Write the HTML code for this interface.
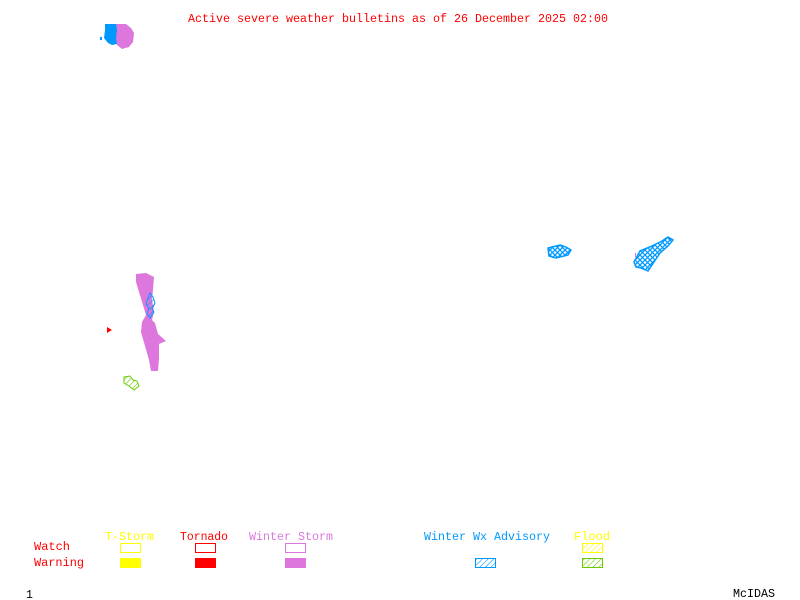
<!DOCTYPE html>
<html><head><meta charset="utf-8"><style>
html,body{margin:0;padding:0;background:#fff;width:800px;height:600px;overflow:hidden}
svg text{font-family:"Liberation Mono","DejaVu Sans Mono",monospace;font-size:11.5px}
</style></head><body>
<svg width="800" height="600" viewBox="0 0 800 600" xmlns="http://www.w3.org/2000/svg">
<defs>
<pattern id="hb" width="4" height="4" patternUnits="userSpaceOnUse" patternTransform="rotate(45)"><line x1="0" y1="0" x2="0" y2="4" stroke="#0099ff" stroke-width="1.2"/></pattern>
<pattern id="hb2" width="5" height="5" patternUnits="userSpaceOnUse"><path d="M0,5 L5,0 M0,0 L5,5" stroke="#0099ff" stroke-width="1.3" fill="none"/></pattern>
<pattern id="hy" width="4" height="4" patternUnits="userSpaceOnUse" patternTransform="rotate(45)"><line x1="0" y1="0" x2="0" y2="4" stroke="#ffff00" stroke-width="1.2"/></pattern>
<pattern id="hg" width="4" height="4" patternUnits="userSpaceOnUse" patternTransform="rotate(45)"><line x1="0" y1="0" x2="0" y2="4" stroke="#66cc00" stroke-width="1.2"/></pattern>
</defs>
<text x="188" y="22" fill="#ff0000" textLength="420" lengthAdjust="spacingAndGlyphs">Active severe weather bulletins as of 26 December 2025 02:00</text>
<!-- top left blobs -->
<polygon points="115,24 126,24 131,28 134,33 133,42 129,47 122,49 117,45 115,38" fill="#dd77dd"/>
<polygon points="105,24 116,24 117,30 116,38 117,44 112,45 108,43 104,38 105,30" fill="#0099ff"/>
<rect x="100" y="37" width="2" height="3" fill="#0099ff"/>
<!-- western winter storm -->
<polygon points="136,274 146,273 154,277 153,290 152,300 154,312 152,320 155,323 158,334 166,341 159,344 159,358 158,371 151,371 149,360 145,346 141,332 142,322 146,315 143,305 139,292 136,282" fill="#dd77dd"/>
<polygon points="150,293 153,297 155,303 152,309 154,312 150,318 147,314 149,308 146,304 148,298" fill="url(#hb)" stroke="#0099ff" stroke-width="1"/>
<polygon points="107,327 112,330 107,333" fill="#ff0000"/>
<polygon points="124,377 130,376 133,380 137,381 139,386 134,390 129,386 124,383" fill="url(#hg)" stroke="#66cc00" stroke-width="1"/>
<!-- eastern advisories -->
<polygon points="548,248 560,245 566,247 571,250 568,255 556,258 549,256" fill="url(#hb2)" stroke="#0099ff" stroke-width="1.5"/>
<polygon points="634,262 640,251 652,246 662,241 668,237 673,240 668,246 660,253 654,262 650,268 648,271 641,268 636,267" fill="url(#hb2)" stroke="#0099ff" stroke-width="1.5"/>
<rect x="635" y="253" width="1" height="4" fill="#dd77dd"/>
<!-- legend -->
<text x="105" y="540" fill="#ffff00" textLength="49" lengthAdjust="spacingAndGlyphs">T-Storm</text>
<text x="180" y="540" fill="#ff0000" textLength="48" lengthAdjust="spacingAndGlyphs">Tornado</text>
<text x="249" y="540" fill="#dd77dd" textLength="84" lengthAdjust="spacingAndGlyphs">Winter Storm</text>
<text x="424" y="540" fill="#0099ff" textLength="126" lengthAdjust="spacingAndGlyphs">Winter Wx Advisory</text>
<text x="574" y="540" fill="#ffff00" textLength="36" lengthAdjust="spacingAndGlyphs">Flood</text>
<text x="34" y="550" fill="#ff0000" textLength="36" lengthAdjust="spacingAndGlyphs">Watch</text>
<text x="34" y="566" fill="#ff0000" textLength="50" lengthAdjust="spacingAndGlyphs">Warning</text>
<rect x="120.5" y="543.5" width="20" height="9" fill="none" stroke="#ffff00"/>
<rect x="120" y="558" width="21" height="10" fill="#ffff00"/>
<rect x="195.5" y="543.5" width="20" height="9" fill="none" stroke="#ff0000"/>
<rect x="195" y="558" width="21" height="10" fill="#ff0000"/>
<rect x="285.5" y="543.5" width="20" height="9" fill="none" stroke="#dd77dd"/>
<rect x="285" y="558" width="21" height="10" fill="#dd77dd"/>
<rect x="475.5" y="558.5" width="20" height="9" fill="url(#hb)" stroke="#0099ff"/>
<rect x="582.5" y="543.5" width="20" height="9" fill="url(#hy)" stroke="#ffff00"/>
<rect x="582.5" y="558.5" width="20" height="9" fill="url(#hg)" stroke="#66cc00"/>
<text x="26" y="598" fill="#000">1</text>
<text x="733" y="597" fill="#000" textLength="42" lengthAdjust="spacingAndGlyphs">McIDAS</text>
</svg>
</body></html>
